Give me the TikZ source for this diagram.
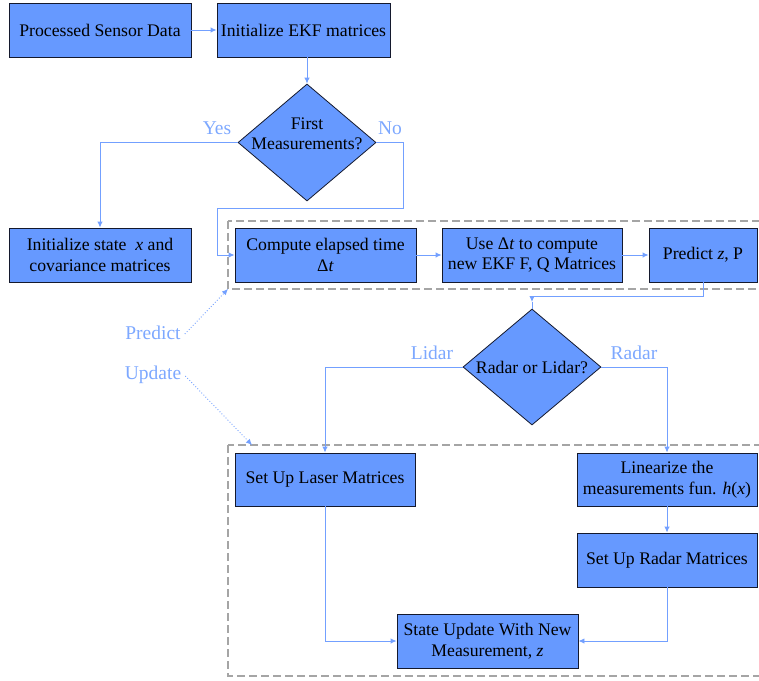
\documentclass[tikz,border=0pt]{standalone}
\usepackage{fontspec}
\setmainfont{Liberation Serif}
\usetikzlibrary{shapes.geometric,arrows.meta}
\definecolor{boxfill}{RGB}{102,153,255}
\definecolor{wire}{RGB}{115,160,255}
\definecolor{lbl}{RGB}{125,168,255}
\definecolor{dashgray}{RGB}{165,165,165}
\definecolor{edge}{RGB}{20,25,45}
\tikzset{
  box/.style={draw=edge, line width=0.9pt, fill=boxfill, minimum width=#1,
    minimum height=54pt, inner sep=0pt, align=center,
    font=\fontsize{17.7}{20.5}\selectfont},
  box/.default=180pt,
  dia/.style={diamond, draw=edge, line width=0.8pt, fill=boxfill,
    minimum width=138pt, minimum height=117pt, inner sep=0pt},
  diatext/.style={align=center, inner sep=0pt, font=\fontsize{17.7}{20.5}\selectfont},
  wirearrow/.style={draw=wire, line width=0.9pt, -{Latex[length=6pt,width=5.5pt]}},
  wireline/.style={draw=wire, line width=0.9pt},
  dotarrow/.style={draw=wire, line width=0.9pt, dotted, -{Latex[length=6pt,width=5.5pt]}},
  lbltext/.style={text=lbl, inner sep=0pt, font=\fontsize{19.5}{22}\selectfont},
  group/.style={draw=dashgray, line width=1.1pt, dash pattern=on 8pt off 4pt},
}
\begin{document}
\begin{tikzpicture}[x=1pt,y=-1pt]
\useasboundingbox (0,0) rectangle (759,680);
\clip (0,0) rectangle (759,680);

% group frames
\draw[group] (228,221) rectangle (780,289);
\draw[group] (228,445) rectangle (780,676);
\coordinate (pc) at (228,289);
\coordinate (uc) at (252,445);

% nodes
\node[box=182pt] (psd) at (100,30) {Processed Sensor Data};
\node[box=173pt] (ekf) at (303.5,30) {Initialize EKF matrices};
\node[dia] (fm) at (307,142.5) {};
\node[diatext] (fmt) at (307,134) {First\\Measurements?};
\node[box=182pt] (init) at (100,255) {Initialize state \ \textit{x} and\\covariance matrices};
\node[box=181pt] (cet) at (325.5,255) {Compute elapsed time\\Δ\textit{t}};
\node[box=180pt] (use) at (532,255) {Use Δ\textit{t} to compute\\new EKF F, Q Matrices};
\node[box=108pt] (pz) at (703,255) {Predict \textit{z}, P};
\node[dia, minimum height=116pt] (rl) at (532,367) {};
\node[diatext] (rlt) at (532,367) {Radar or Lidar?};
\node[box=180pt, minimum height=53pt] (laser) at (325,479.5) {Set Up Laser Matrices};
\node[box=180pt, minimum height=53pt] (lin) at (667,479.5) {Linearize the\\measurements fun. \textit{h}(\textit{x})};
\node[box=180pt] (radar) at (667,560) {Set Up Radar Matrices};
\node[box=181pt] (su) at (487.5,641) {State Update With New\\Measurement, \textit{z}};

% labels
\node[lbltext] (yes) at (217,128) {Yes};
\node[lbltext] (no) at (390,128) {No};
\node[lbltext] (lidar) at (432,353) {Lidar};
\node[lbltext] (radarl) at (634,353) {Radar};
\node[lbltext] (predl) at (153,333) {Predict};
\node[lbltext] (updl) at (153,375) {Update};

% helper coordinates
\coordinate (n1) at (403,208);
\coordinate (n2) at (217,208);
\coordinate (k) at (532,302);

% connectors
\draw[wirearrow] (psd.east) -- (ekf.west);
\draw[wirearrow] (fm.north |- ekf.south) -- (fm.north);
\draw[wirearrow] (fm.west) -| (init.north);
\draw[wirearrow] (fm.east) -| (n1) -- (n2) |- (cet.west);
\draw[wirearrow] (cet.east) -- (use.west);
\draw[wirearrow] (use.east) -- (pz.west);
\draw[wirearrow] (pz.south) -- ++(0,14) -| (k);
\draw[wireline] (k) -- (rl.north);
\draw[wirearrow] (rl.west) -| (laser.north);
\draw[wirearrow] (rl.east) -| (lin.north);
\draw[wirearrow] (lin.south) -- (radar.north);
\draw[wirearrow] (laser.south) |- (su.west);
\draw[wirearrow] (radar.south) |- (su.east);
\draw[dotarrow] ([xshift=4pt,yshift=-1pt]predl.east) -- (pc);
\draw[dotarrow] ([xshift=4pt,yshift=-1pt]updl.east) -- (uc);
\end{tikzpicture}
\end{document}
